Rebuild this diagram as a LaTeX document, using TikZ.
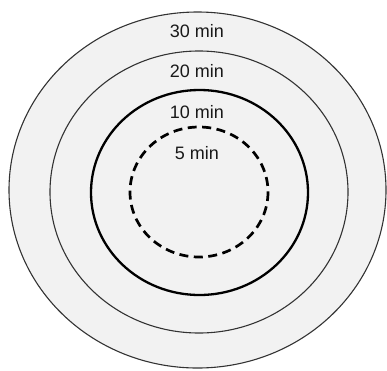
\documentclass[tikz,border=0pt]{standalone}
\usepackage{fontspec}
\setmainfont{Liberation Sans}
\usepackage{xcolor}
\definecolor{ringfill}{HTML}{F2F2F2}
\definecolor{ringline}{HTML}{333333}
\begin{document}
\begin{tikzpicture}[
  x=1pt,
  y=-1pt,
  thinring/.style={draw=ringline, line width=1.1pt},
  thickring/.style={draw=black, line width=2.3pt},
  dashring/.style={draw=black, line width=2.7pt, dash pattern=on 9pt off 5.5pt},
  lbl/.style={font=\fontsize{18}{21}\selectfont, inner sep=0pt, text=black!90},
  every node/.style={font=\small}
]
\useasboundingbox (0,0) rectangle (387,370);
\fill[ringfill] (197.5,190) ellipse [x radius=188.5, y radius=178];
\draw[thinring] (197.5,190) ellipse [x radius=188.5, y radius=178];
\draw[thinring] (199,192) ellipse [x radius=149, y radius=141];
\draw[thickring] (199.5,192.5) ellipse [x radius=108.5, y radius=102.5];
\draw[dashring] (199,192) ellipse [x radius=69, y radius=65];

\node[lbl] (t30) at (197,31) {30 min};
\node[lbl] (t20) at (197,71) {20 min};
\node[lbl] (t10) at (197,112) {10 min};
\node[lbl] (t5) at (197,153) {5 min};
\end{tikzpicture}
\end{document}
